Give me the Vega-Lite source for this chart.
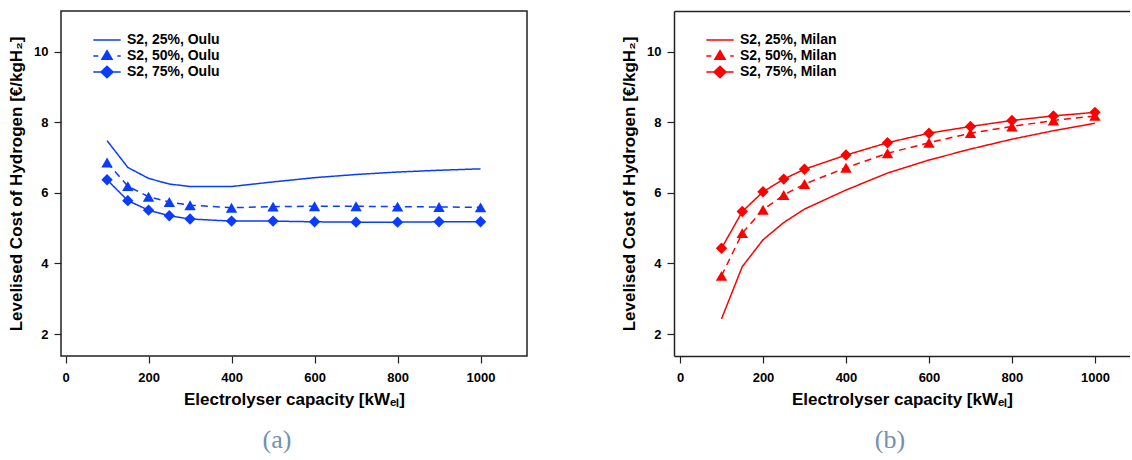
{
  "$schema": "https://vega.github.io/schema/vega-lite/v6.json",
  "padding": {"left": 6, "top": 10, "right": 0, "bottom": 0},
  "spacing": 92,
  "datasets": {
    "oulu": [
      {"capacity": 100, "lcoh": 7.48, "series": "S2, 25%, Oulu"},
      {"capacity": 150, "lcoh": 6.72, "series": "S2, 25%, Oulu"},
      {"capacity": 200, "lcoh": 6.41, "series": "S2, 25%, Oulu"},
      {"capacity": 250, "lcoh": 6.25, "series": "S2, 25%, Oulu"},
      {"capacity": 300, "lcoh": 6.18, "series": "S2, 25%, Oulu"},
      {"capacity": 400, "lcoh": 6.18, "series": "S2, 25%, Oulu"},
      {"capacity": 500, "lcoh": 6.31, "series": "S2, 25%, Oulu"},
      {"capacity": 600, "lcoh": 6.43, "series": "S2, 25%, Oulu"},
      {"capacity": 700, "lcoh": 6.52, "series": "S2, 25%, Oulu"},
      {"capacity": 800, "lcoh": 6.59, "series": "S2, 25%, Oulu"},
      {"capacity": 900, "lcoh": 6.64, "series": "S2, 25%, Oulu"},
      {"capacity": 1000, "lcoh": 6.68, "series": "S2, 25%, Oulu"},
      {"capacity": 100, "lcoh": 6.86, "series": "S2, 50%, Oulu"},
      {"capacity": 150, "lcoh": 6.19, "series": "S2, 50%, Oulu"},
      {"capacity": 200, "lcoh": 5.89, "series": "S2, 50%, Oulu"},
      {"capacity": 250, "lcoh": 5.74, "series": "S2, 50%, Oulu"},
      {"capacity": 300, "lcoh": 5.65, "series": "S2, 50%, Oulu"},
      {"capacity": 400, "lcoh": 5.58, "series": "S2, 50%, Oulu"},
      {"capacity": 500, "lcoh": 5.61, "series": "S2, 50%, Oulu"},
      {"capacity": 600, "lcoh": 5.62, "series": "S2, 50%, Oulu"},
      {"capacity": 700, "lcoh": 5.62, "series": "S2, 50%, Oulu"},
      {"capacity": 800, "lcoh": 5.61, "series": "S2, 50%, Oulu"},
      {"capacity": 900, "lcoh": 5.60, "series": "S2, 50%, Oulu"},
      {"capacity": 1000, "lcoh": 5.59, "series": "S2, 50%, Oulu"},
      {"capacity": 100, "lcoh": 6.37, "series": "S2, 75%, Oulu"},
      {"capacity": 150, "lcoh": 5.78, "series": "S2, 75%, Oulu"},
      {"capacity": 200, "lcoh": 5.51, "series": "S2, 75%, Oulu"},
      {"capacity": 250, "lcoh": 5.35, "series": "S2, 75%, Oulu"},
      {"capacity": 300, "lcoh": 5.26, "series": "S2, 75%, Oulu"},
      {"capacity": 400, "lcoh": 5.20, "series": "S2, 75%, Oulu"},
      {"capacity": 500, "lcoh": 5.20, "series": "S2, 75%, Oulu"},
      {"capacity": 600, "lcoh": 5.18, "series": "S2, 75%, Oulu"},
      {"capacity": 700, "lcoh": 5.17, "series": "S2, 75%, Oulu"},
      {"capacity": 800, "lcoh": 5.17, "series": "S2, 75%, Oulu"},
      {"capacity": 900, "lcoh": 5.18, "series": "S2, 75%, Oulu"},
      {"capacity": 1000, "lcoh": 5.18, "series": "S2, 75%, Oulu"}
    ],
    "milan": [
      {"capacity": 100, "lcoh": 2.43, "series": "S2, 25%, Milan"},
      {"capacity": 150, "lcoh": 3.91, "series": "S2, 25%, Milan"},
      {"capacity": 200, "lcoh": 4.67, "series": "S2, 25%, Milan"},
      {"capacity": 250, "lcoh": 5.16, "series": "S2, 25%, Milan"},
      {"capacity": 300, "lcoh": 5.54, "series": "S2, 25%, Milan"},
      {"capacity": 400, "lcoh": 6.08, "series": "S2, 25%, Milan"},
      {"capacity": 500, "lcoh": 6.56, "series": "S2, 25%, Milan"},
      {"capacity": 600, "lcoh": 6.93, "series": "S2, 25%, Milan"},
      {"capacity": 700, "lcoh": 7.24, "series": "S2, 25%, Milan"},
      {"capacity": 800, "lcoh": 7.52, "series": "S2, 25%, Milan"},
      {"capacity": 900, "lcoh": 7.76, "series": "S2, 25%, Milan"},
      {"capacity": 1000, "lcoh": 7.97, "series": "S2, 25%, Milan"},
      {"capacity": 100, "lcoh": 3.65, "series": "S2, 50%, Milan"},
      {"capacity": 150, "lcoh": 4.86, "series": "S2, 50%, Milan"},
      {"capacity": 200, "lcoh": 5.52, "series": "S2, 50%, Milan"},
      {"capacity": 250, "lcoh": 5.94, "series": "S2, 50%, Milan"},
      {"capacity": 300, "lcoh": 6.25, "series": "S2, 50%, Milan"},
      {"capacity": 400, "lcoh": 6.71, "series": "S2, 50%, Milan"},
      {"capacity": 500, "lcoh": 7.12, "series": "S2, 50%, Milan"},
      {"capacity": 600, "lcoh": 7.42, "series": "S2, 50%, Milan"},
      {"capacity": 700, "lcoh": 7.69, "series": "S2, 50%, Milan"},
      {"capacity": 800, "lcoh": 7.88, "series": "S2, 50%, Milan"},
      {"capacity": 900, "lcoh": 8.05, "series": "S2, 50%, Milan"},
      {"capacity": 1000, "lcoh": 8.18, "series": "S2, 50%, Milan"},
      {"capacity": 100, "lcoh": 4.43, "series": "S2, 75%, Milan"},
      {"capacity": 150, "lcoh": 5.47, "series": "S2, 75%, Milan"},
      {"capacity": 200, "lcoh": 6.03, "series": "S2, 75%, Milan"},
      {"capacity": 250, "lcoh": 6.39, "series": "S2, 75%, Milan"},
      {"capacity": 300, "lcoh": 6.67, "series": "S2, 75%, Milan"},
      {"capacity": 400, "lcoh": 7.07, "series": "S2, 75%, Milan"},
      {"capacity": 500, "lcoh": 7.42, "series": "S2, 75%, Milan"},
      {"capacity": 600, "lcoh": 7.69, "series": "S2, 75%, Milan"},
      {"capacity": 700, "lcoh": 7.88, "series": "S2, 75%, Milan"},
      {"capacity": 800, "lcoh": 8.05, "series": "S2, 75%, Milan"},
      {"capacity": 900, "lcoh": 8.18, "series": "S2, 75%, Milan"},
      {"capacity": 1000, "lcoh": 8.28, "series": "S2, 75%, Milan"}
    ]
  },
  "hconcat": [
    {
      "width": 466,
      "height": 345,
      "data": {"name": "oulu"},
      "title": {"text": "(a)", "dx": -17},
      "layer": [
        {
          "mark": {"type": "line", "color": "#0a3cff", "strokeWidth": 1.5},
          "encoding": {
            "x": {"field": "capacity", "type": "quantitative", "title": "Electrolyser capacity [kWₑₗ]",
                  "scale": {"domain": [-11, 1112], "nice": false, "zero": false},
                  "axis": {"values": [0, 200, 400, 600, 800, 1000], "format": "d", "domain": false}},
            "y": {"field": "lcoh", "type": "quantitative", "title": "Levelised Cost of Hydrogen [€/kgH₂]",
                  "scale": {"domain": [1.38, 11.15], "nice": false, "zero": false},
                  "axis": {"values": [2, 4, 6, 8, 10], "domain": false}},
            "strokeDash": {"field": "series", "type": "nominal", "legend": null,
                  "scale": {"domain": ["S2, 25%, Oulu", "S2, 50%, Oulu", "S2, 75%, Oulu"], "range": [[1, 0], [7, 5], [1, 0]]}}
          }
        },
        {
          "transform": [{"filter": "datum.series != 'S2, 25%, Oulu'"}],
          "mark": {"type": "point", "filled": true, "color": "#0a3cff", "size": 130, "opacity": 1},
          "encoding": {
            "x": {"field": "capacity", "type": "quantitative", "title": "Electrolyser capacity [kWₑₗ]"},
            "y": {"field": "lcoh", "type": "quantitative", "title": "Levelised Cost of Hydrogen [€/kgH₂]"},
            "shape": {"field": "series", "type": "nominal", "legend": null,
                  "scale": {"domain": ["S2, 50%, Oulu", "S2, 75%, Oulu"], "range": ["triangle-up", "diamond"]}}
          }
        },
        {
          "transform": [{"filter": "false"}],
          "mark": {"type": "point", "filled": true, "color": "#0a3cff", "stroke": "#0a3cff", "strokeWidth": 1.5, "size": 144, "opacity": 1},
          "encoding": {
            "shape": {"field": "series", "type": "nominal",
                  "scale": {"domain": ["S2, 25%, Oulu", "S2, 50%, Oulu", "S2, 75%, Oulu"],
                            "range": ["M-2.28,0H2.28", "M-2.28,0H-1.45M1.72,0H2.28M0,-0.88L0.85,0.55L-0.85,0.55Z", "M-2.28,0H2.28M0,-0.95L1,0L0,0.95L-1,0Z"]},
                  "legend": {"orient": "none", "legendX": 39, "legendY": 22}}
          }
        }
      ],
      "resolve": {"scale": {"shape": "independent"}}
    },
    {
      "width": 456,
      "height": 345,
      "data": {"name": "milan"},
      "title": {"text": "(b)", "dx": -12},
      "view": {"stroke": null},
      "layer": [
        {
          "mark": {"type": "line", "color": "#ff0000", "strokeWidth": 1.5},
          "encoding": {
            "x": {"field": "capacity", "type": "quantitative", "title": "Electrolyser capacity [kWₑₗ]",
                  "scale": {"domain": [-14.5, 1084.5], "nice": false, "zero": false},
                  "axis": {"values": [0, 200, 400, 600, 800, 1000], "format": "d", "domain": true}},
            "y": {"field": "lcoh", "type": "quantitative", "title": "Levelised Cost of Hydrogen [€/kgH₂]",
                  "scale": {"domain": [1.38, 11.15], "nice": false, "zero": false},
                  "axis": {"values": [2, 4, 6, 8, 10], "domain": true}},
            "strokeDash": {"field": "series", "type": "nominal", "legend": null,
                  "scale": {"domain": ["S2, 25%, Milan", "S2, 50%, Milan", "S2, 75%, Milan"], "range": [[1, 0], [7, 5], [1, 0]]}}
          }
        },
        {
          "transform": [{"filter": "datum.series != 'S2, 25%, Milan'"}],
          "mark": {"type": "point", "filled": true, "color": "#ff0000", "size": 130, "opacity": 1},
          "encoding": {
            "x": {"field": "capacity", "type": "quantitative", "axis": null},
            "y": {"field": "lcoh", "type": "quantitative", "title": "Levelised Cost of Hydrogen [€/kgH₂]"},
            "shape": {"field": "series", "type": "nominal", "legend": null,
                  "scale": {"domain": ["S2, 50%, Milan", "S2, 75%, Milan"], "range": ["triangle-up", "diamond"]}}
          }
        },
        {
          "transform": [{"filter": "false"}],
          "mark": {"type": "point", "filled": true, "color": "#ff0000", "stroke": "#ff0000", "strokeWidth": 1.5, "size": 144, "opacity": 1},
          "encoding": {
            "shape": {"field": "series", "type": "nominal",
                  "scale": {"domain": ["S2, 25%, Milan", "S2, 50%, Milan", "S2, 75%, Milan"],
                            "range": ["M-2.28,0H2.28", "M-2.28,0H-1.45M1.72,0H2.28M0,-0.88L0.85,0.55L-0.85,0.55Z", "M-2.28,0H2.28M0,-0.95L1,0L0,0.95L-1,0Z"]},
                  "legend": {"orient": "none", "legendX": 39, "legendY": 22}}
          }
        },
        {
          "transform": [{"filter": "false"}],
          "mark": {"type": "point", "opacity": 0},
          "encoding": {
            "x": {"field": "capacity", "type": "quantitative",
                  "axis": {"orient": "top", "domain": true, "ticks": false, "labels": false, "title": null}}
          }
        }
      ],
      "resolve": {"scale": {"shape": "independent"}, "axis": {"x": "independent"}}
    }
  ],
  "resolve": {"scale": {"shape": "independent", "strokeDash": "independent"}, "legend": {"shape": "independent", "strokeDash": "independent"}},
  "config": {
    "view": {"stroke": "#222222", "strokeWidth": 1.5},
    "axis": {
      "grid": false,
      "labelFont": "Liberation Sans", "labelFontSize": 13, "labelFontWeight": "bold", "labelColor": "#000000",
      "titleFont": "Liberation Sans", "titleFontSize": 17, "titleFontWeight": "bold", "titleColor": "#000000",
      "tickColor": "#222222", "tickWidth": 1.2, "tickSize": 7,
      "domainColor": "#222222", "domainWidth": 1.5, "labelPadding": 6
    },
    "axisX": {"labelPadding": 8, "titlePadding": 7},
    "axisY": {"titlePadding": 8},
    "legend": {
      "title": null, "padding": 0, "symbolSize": 144, "symbolStrokeWidth": 1.5,
      "labelFont": "Liberation Sans", "labelFontSize": 14, "labelFontWeight": "bold", "labelColor": "#000000",
      "labelOffset": 13, "rowPadding": 0
    },
    "title": {
      "orient": "bottom", "anchor": "middle", "font": "Liberation Serif", "fontSize": 26, "fontWeight": "normal",
      "color": "#7390b3", "offset": 20
    }
  }
}
